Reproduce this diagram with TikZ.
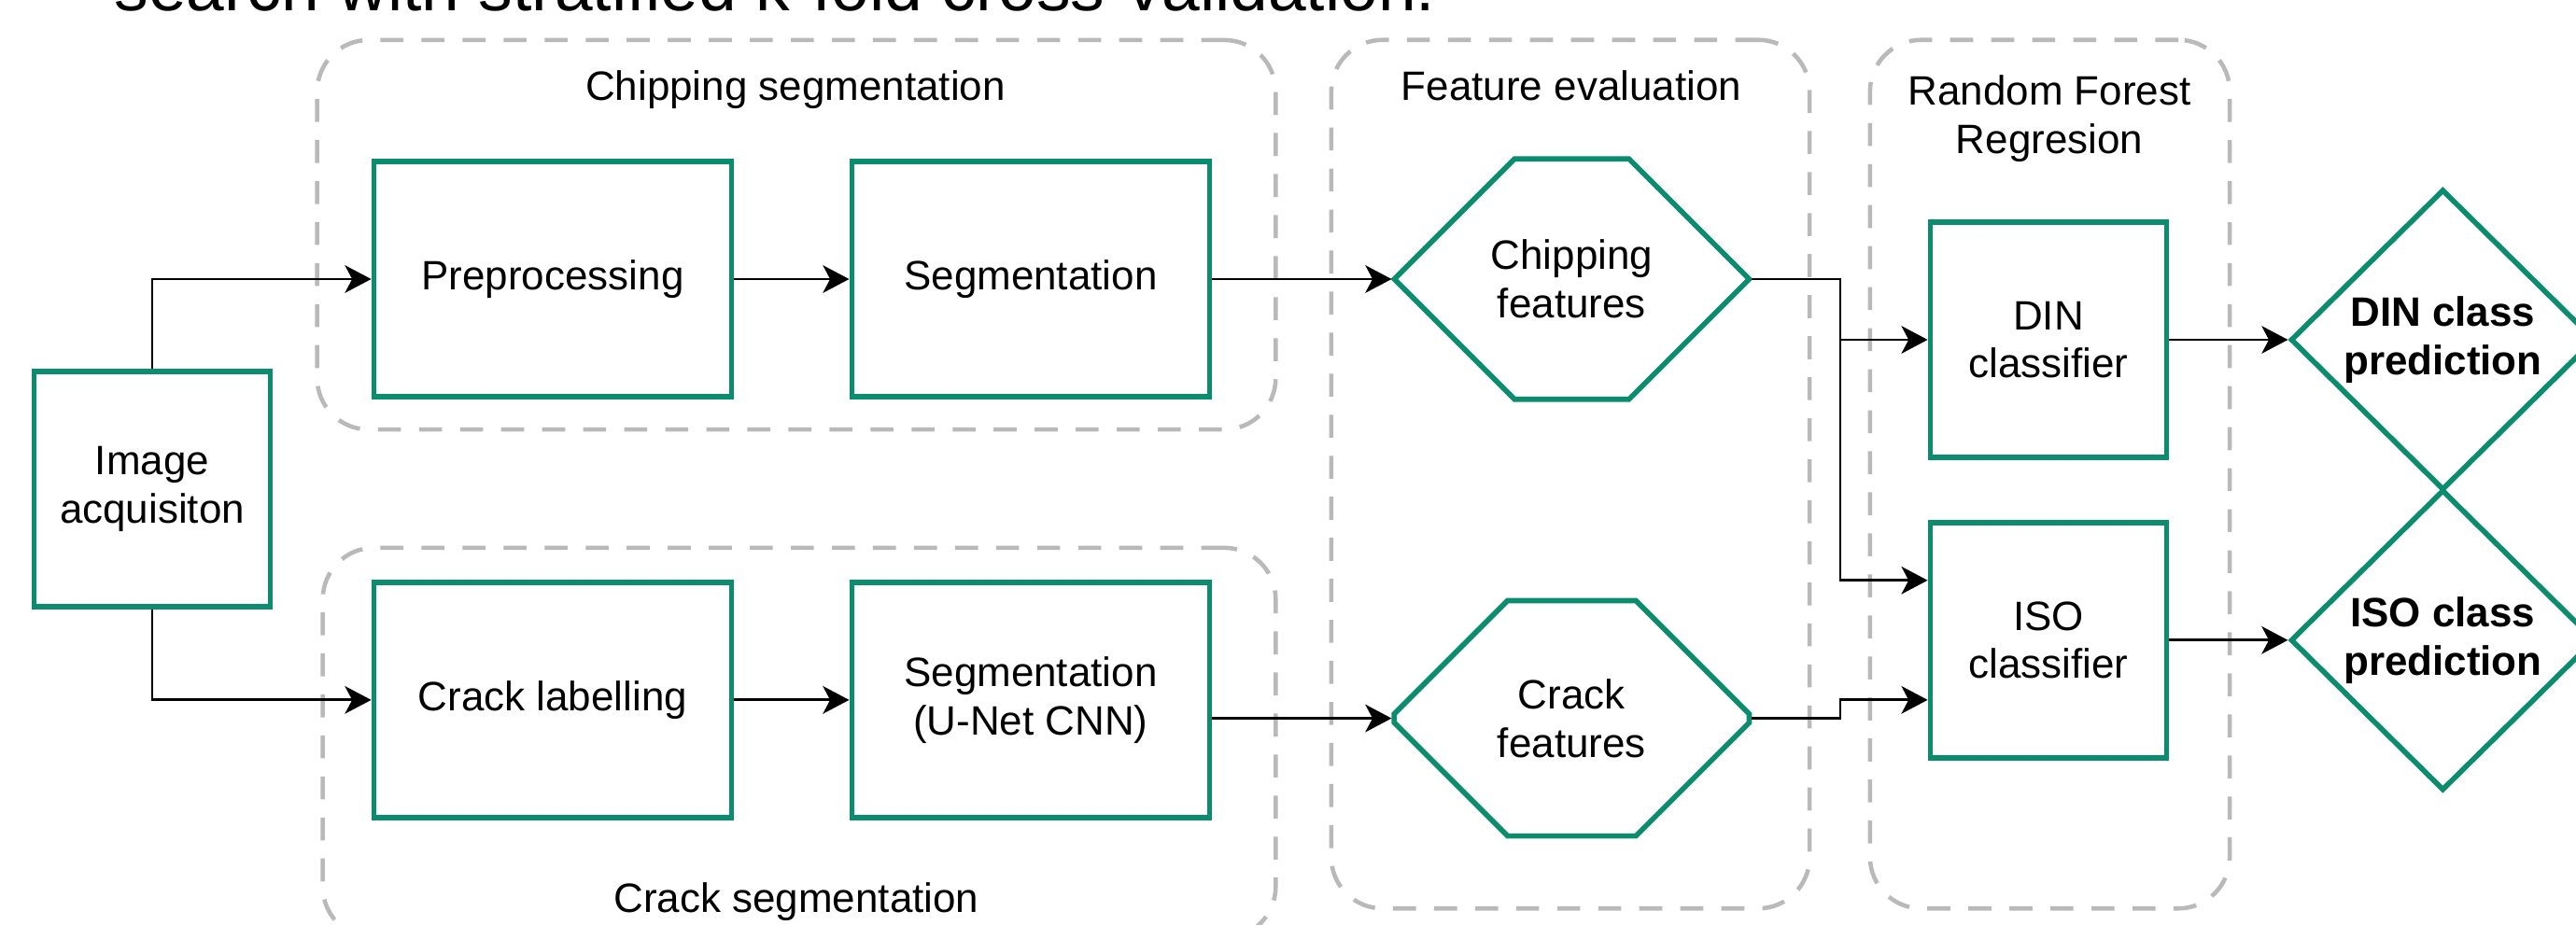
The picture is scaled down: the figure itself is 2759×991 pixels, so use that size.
\documentclass[tikz,border=0pt]{standalone}
\usepackage{fontspec}
\setmainfont{Liberation Sans}
\usepackage{tikz}
\usetikzlibrary{shapes.misc, shapes.geometric, positioning}
\usetikzlibrary{arrows.meta}
\definecolor{boxgreen}{RGB}{12,140,110}
\definecolor{dashgray}{RGB}{185,185,185}
\tikzset{>={Stealth[width=8.4pt,length=8pt,inset=2.2pt]}}

\begin{document}
\begin{tikzpicture}[x=0.01cm, y=-0.01cm, box/.style={rectangle, draw=boxgreen, line width=1.6pt, minimum width=3.83cm, minimum height=2.52cm, inner sep=0pt, align=center, font=\fontsize{12.5}{14.7}\selectfont}, smallbox/.style={box, minimum width=2.53cm}, hexnode/.style={chamfered rectangle, chamfered rectangle xsep=0.96cm, chamfered rectangle ysep=1.255cm, draw=boxgreen, line width=1.6pt, minimum width=3.8cm, minimum height=2.52cm, inner sep=0pt, align=center, font=\fontsize{12.5}{14.7}\selectfont}, decision/.style={diamond, draw=boxgreen, line width=1.6pt, minimum width=3.26cm, minimum height=3.22cm, inner sep=0pt, align=center, font=\fontsize{12.5}{14.7}\selectfont\bfseries}, group/.style={rectangle, rounded corners=0.55cm, draw=dashgray, line width=1.3pt, dash pattern=on 7pt off 5.5pt}, grouplabel/.style={align=center, inner sep=0pt, font=\fontsize{12.5}{14.7}\selectfont}, conn/.style={->, line width=0.8pt}]

    \useasboundingbox (0,0) rectangle (2759,991);
    \clip (0,0) rectangle (2759,991);

    %Groups
    \node[group, minimum width=10.26cm, minimum height=4.17cm](chipgrp) at (853,251.5){};
    \node[group, minimum width=10.2cm, minimum height=4.18cm](crackgrp) at (856,796){};
    \node[group, minimum width=5.12cm, minimum height=9.3cm](featgrp) at (1682,508){};
    \node[group, minimum width=3.85cm, minimum height=9.3cm](rfgrp) at (2195.5,508){};

    \node[grouplabel, anchor=base](chiptext) at (852,108){Chipping segmentation};
    \node[grouplabel, anchor=base](cracktext) at (853,977){Crack segmentation};
    \node[grouplabel, anchor=base](feattext) at (1683,108){Feature evaluation};
    \node[grouplabel](rftext) at (2195,127){Random Forest\\Regresion};

    \node[anchor=base west, inner sep=0pt, font=\fontsize{20.8}{25}\selectfont](title) at (122,12){search with stratified k-fold cross-validation.};

    %Nodes
    \node[smallbox](img) at (163,524){Image\\acquisiton};
    \node[box](prep) at (592,299){Preprocessing};
    \node[box](seg)[right=1.23cm of prep]{Segmentation};
    \node[box](crack)[below=1.93cm of prep]{Crack labelling};
    \node[box](unet)[right=1.23cm of crack]{Segmentation\\(U-Net CNN)};

    \node[hexnode](chipfeat)[right=1.92cm of seg]{Chipping\\features};
    \node[hexnode](crackfeat)[below=2.1cm of chipfeat]{Crack\\features};

    \node[smallbox](din) at (2194,364){DIN\\classifier};
    \node[smallbox](iso)[below=0.64cm of din]{ISO\\classifier};
    \node[decision](dindia)[right=1.27cm of din]{DIN class\\prediction};
    \node[decision](isodia)[right=1.27cm of iso]{ISO class\\prediction};

    \coordinate (split) at (1971,0);

    %Lines
    \draw[conn] (img.north) |- (prep.west);
    \draw[conn] (img.south) |- (crack.west);
    \draw[conn] (prep.east) -- (seg.west);
    \draw[conn] (crack.east) -- (unet.west);
    \draw[conn] (seg.east) -- (chipfeat.west);
    \draw[conn] (unet.east |- crackfeat.west) -- (crackfeat.west);
    \draw[conn] (chipfeat.east) -- (chipfeat.east -| split) |- (din.west);
    \draw[conn] (chipfeat.east -| split) |- ([yshift=0.64cm]iso.west);
    \draw[conn] (crackfeat.east) -- (crackfeat.east -| split) |- ([yshift=-0.64cm]iso.west);
    \draw[conn] (din.east) -- (dindia.west);
    \draw[conn] (iso.east) -- (isodia.west);

\end{tikzpicture}
\end{document}
